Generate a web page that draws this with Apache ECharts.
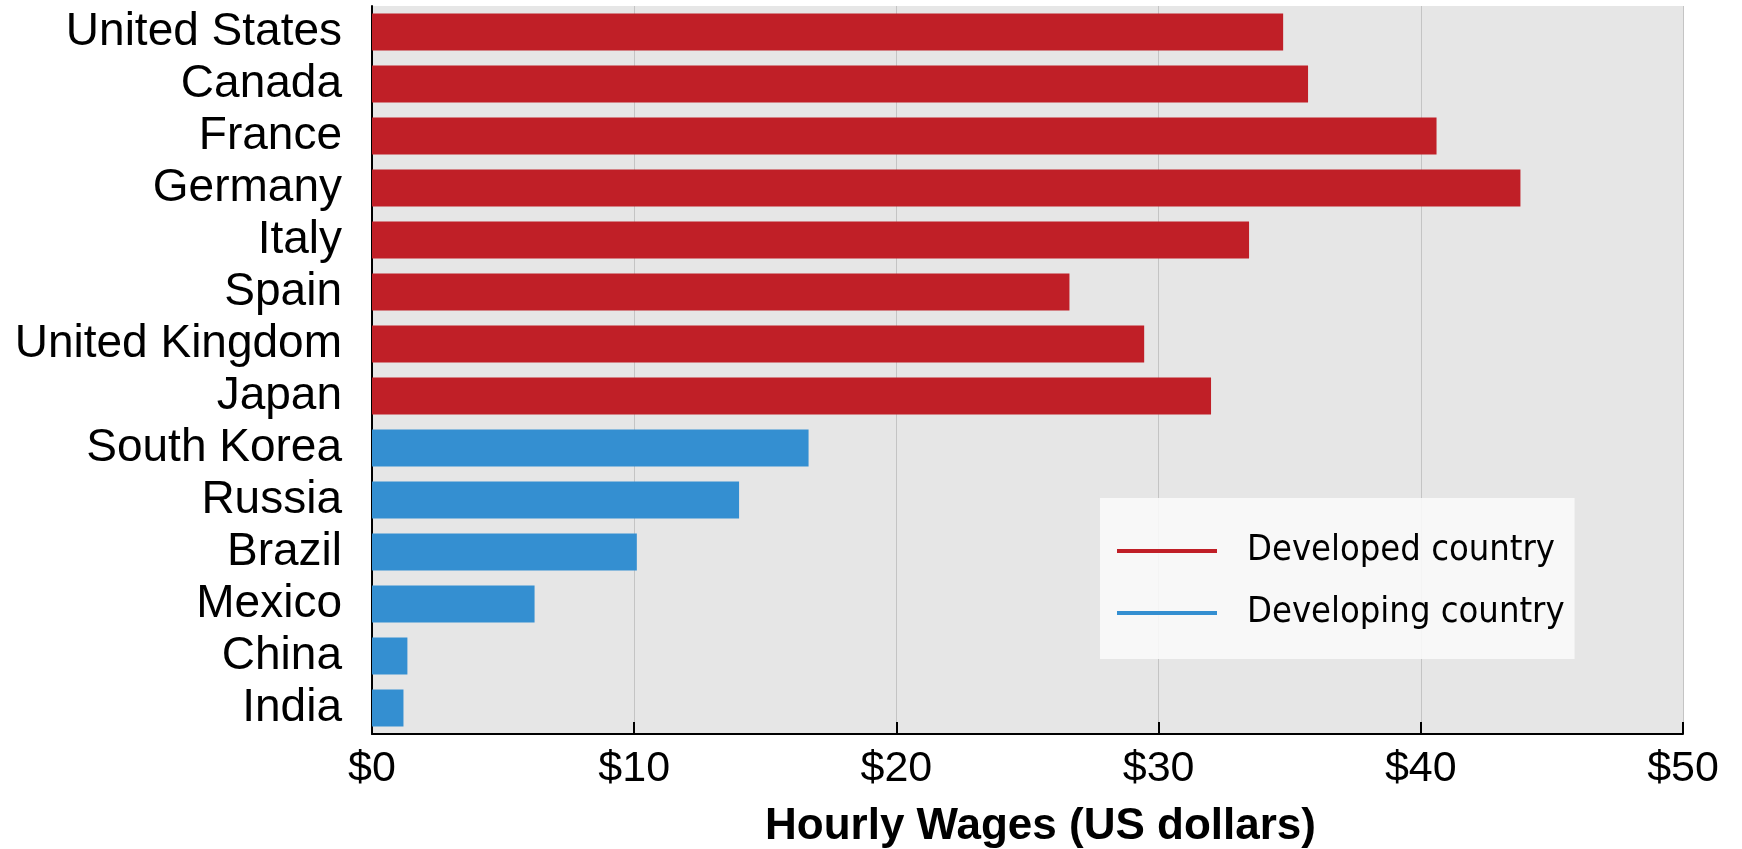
<!DOCTYPE html>
<html>
<head>
<meta charset="utf-8">
<title>Hourly Wages</title>
<script src="https://cdn.jsdelivr.net/npm/echarts@6/dist/echarts.min.js"></script>
<style>
  html, body { margin: 0; padding: 0; background: #fff; }
  #main { width: 1742px; height: 849px; }
</style>
</head>
<body>
<div id="main"></div>
<script>
var countries = ['United States', 'Canada', 'France', 'Germany', 'Italy', 'Spain',
    'United Kingdom', 'Japan', 'South Korea', 'Russia', 'Brazil', 'Mexico', 'China', 'India'];
var developed = [34.75, 35.7, 40.6, 43.8, 33.45, 26.6, 29.45, 32.0, '-', '-', '-', '-', '-', '-'];
var developing = ['-', '-', '-', '-', '-', '-', '-', '-', 16.65, 14.0, 10.1, 6.2, 1.35, 1.2];
var seriesNames = ['Developed country', 'Developing country'];

var myChart = echarts.init(document.getElementById('main'));

var option = {
    animation: false,
    grid: {
        left: 372,
        right: 59,
        top: 6,
        bottom: 115,
        outerBoundsMode: 'none',
        containLabel: false,
        show: true,
        backgroundColor: '#e6e6e6',
        borderWidth: 0
    },
    legend: {
        data: seriesNames,
        orient: 'vertical',
        left: 1100,
        top: 498,
        icon: 'rect',
        itemWidth: 100,
        itemHeight: 4,
        itemGap: 26,
        padding: [35, 10, 28, 17],
        backgroundColor: 'rgba(250,250,250,0.9)',
        textStyle: {
            fontFamily: '"Liberation Sans Narrow", "DejaVu Sans Condensed", sans-serif',
            fontSize: 36,
            color: '#000',
            padding: [0, 0, 0, 25]
        }
    },
    xAxis: {
        type: 'value',
        min: 0,
        max: 50,
        interval: 10,
        name: 'Hourly Wages (US dollars)',
        nameLocation: 'middle',
        nameGap: 71,
        nameTextStyle: {
            fontFamily: '"Liberation Sans", Arial, sans-serif',
            fontWeight: 'bold',
            fontSize: 44,
            color: '#000',
            padding: [0, 0, 0, 26]
        },
        axisLine: { show: true, lineStyle: { color: '#000', width: 2 } },
        axisTick: { show: true, inside: true, length: 12, lineStyle: { color: '#000', width: 2 } },
        axisLabel: {
            formatter: '${value}',
            fontFamily: '"Liberation Sans", Arial, sans-serif',
            fontSize: 43,
            color: '#000',
            margin: 14
        },
        splitLine: { show: true, lineStyle: { color: '#c4c4c4', width: 1 } }
    },
    yAxis: {
        type: 'category',
        data: countries,
        inverse: true,
        axisLine: { show: true, lineStyle: { color: '#000', width: 2 } },
        axisTick: { show: false },
        axisLabel: {
            interval: 0,
            fontFamily: '"Liberation Sans", Arial, sans-serif',
            fontSize: 46,
            color: '#000',
            margin: 30
        },
        splitLine: { show: false }
    },
    series: [
        {
            name: seriesNames[0],
            type: 'bar',
            data: developed,
            barWidth: '71%',
            barGap: '-100%',
            itemStyle: { color: '#c01f27' }
        },
        {
            name: seriesNames[1],
            type: 'bar',
            data: developing,
            barWidth: '71%',
            barGap: '-100%',
            itemStyle: { color: '#348fd1' }
        }
    ]
};

myChart.setOption(option);
window.addEventListener('resize', function () {
    myChart.resize();
});
</script>
</body>
</html>
